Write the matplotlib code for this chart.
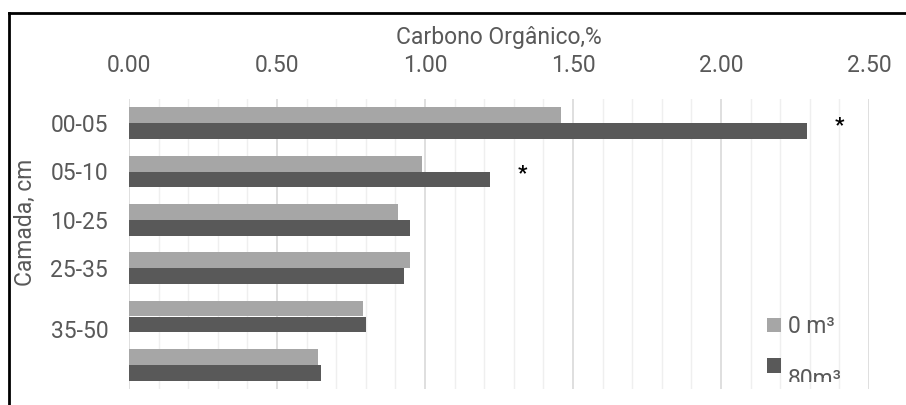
import matplotlib.pyplot as plt
from matplotlib.lines import Line2D
from matplotlib.transforms import Bbox, Affine2D
import numpy as np

plt.rcParams['font.family'] = ['Roboto', 'DejaVu Sans']

camadas = ["00-05", "05-10", "10-25", "25-35", "35-50", ""]
c_0m3 = [1.46, 0.99, 0.91, 0.95, 0.79, 0.64]
c_80m3 = [2.29, 1.22, 0.95, 0.93, 0.80, 0.65]
signif = ["*", "*", "", "", "", ""]

light = "#a6a6a6"
dark = "#595959"
txt = "#595959"
fs = 16.5

fig = plt.figure(figsize=(9.06, 4.05), dpi=100)
ax = fig.add_axes([129 / 906, 1 - 389 / 405, 740 / 906, 290 / 405])

y = np.arange(len(camadas))
h = 0.325
ax.barh(y - h / 2, c_0m3, height=h, color=light, label="0 m³", zorder=3)
ax.barh(y + h / 2, c_80m3, height=h, color=dark, label="80m³", zorder=3)

for yi, v, s in zip(y, c_80m3, signif):
    if s:
        ax.text(v + 0.11, yi + 0.05, s, ha="center", va="center",
                fontsize=15, fontweight="bold", color="black", zorder=4)

ax.set_xlim(0, 2.5)
ax.set_ylim(len(camadas) - 0.5, -0.5)
ax.xaxis.tick_top()
ax.xaxis.set_label_position("top")
ax.set_xticks(np.arange(0, 2.51, 0.5))
ax.set_xticks(np.arange(0, 2.51, 0.1), minor=True)
ax.set_xticklabels([f"{v:.2f}" for v in np.arange(0, 2.51, 0.5)])
ax.grid(axis="x", which="major", color="#d9d9d9", lw=1.2, zorder=0)
ax.grid(axis="x", which="minor", color="#efefef", lw=1.0, zorder=0)

# labels as placed in the original (last one sits lower)
tick_pos = list(y[:4]) + [4.25]
ax.set_yticks(tick_pos)
ax.set_yticklabels(camadas[:5])
ax.tick_params(axis="both", which="both", length=0, colors=txt, labelsize=fs)
ax.tick_params(axis="x", pad=16)
ax.tick_params(axis="y", pad=15)
for s in ax.spines.values():
    s.set_visible(False)

ax.set_xlabel("Carbono Orgânico,%", fontsize=fs, color=txt, labelpad=7)
ax.set_ylabel("Camada, cm", fontsize=fs, color=txt)
ax.yaxis.set_label_coords(-0.124, 0.575)

leg = fig.legend(*ax.get_legend_handles_labels(), loc="upper left",
                 bbox_to_anchor=(767 / 906, 1 - 315 / 405), frameon=False,
                 fontsize=fs, handlelength=0.62, handleheight=0.62,
                 handletextpad=0.3, labelspacing=0.78, borderpad=0,
                 borderaxespad=0, labelcolor=txt)
# second label sits lower in the original and is cut off at the plot bottom
t2 = leg.get_texts()[1]
t2.set_transform(t2.get_transform() + Affine2D().translate(0, -12))
for t in leg.get_texts():
    t.set_clip_box(Bbox.from_extents(0, 23, 906, 405))
    t.set_clip_on(True)

fig.add_artist(Line2D([9 / 906, 1.0], [1 - 13 / 405] * 2, transform=fig.transFigure,
                      color="black", lw=2))
fig.add_artist(Line2D([9 / 906] * 2, [0, 1 - 13 / 405], transform=fig.transFigure,
                      color="black", lw=2))

fig.savefig("out.png", dpi=100)
